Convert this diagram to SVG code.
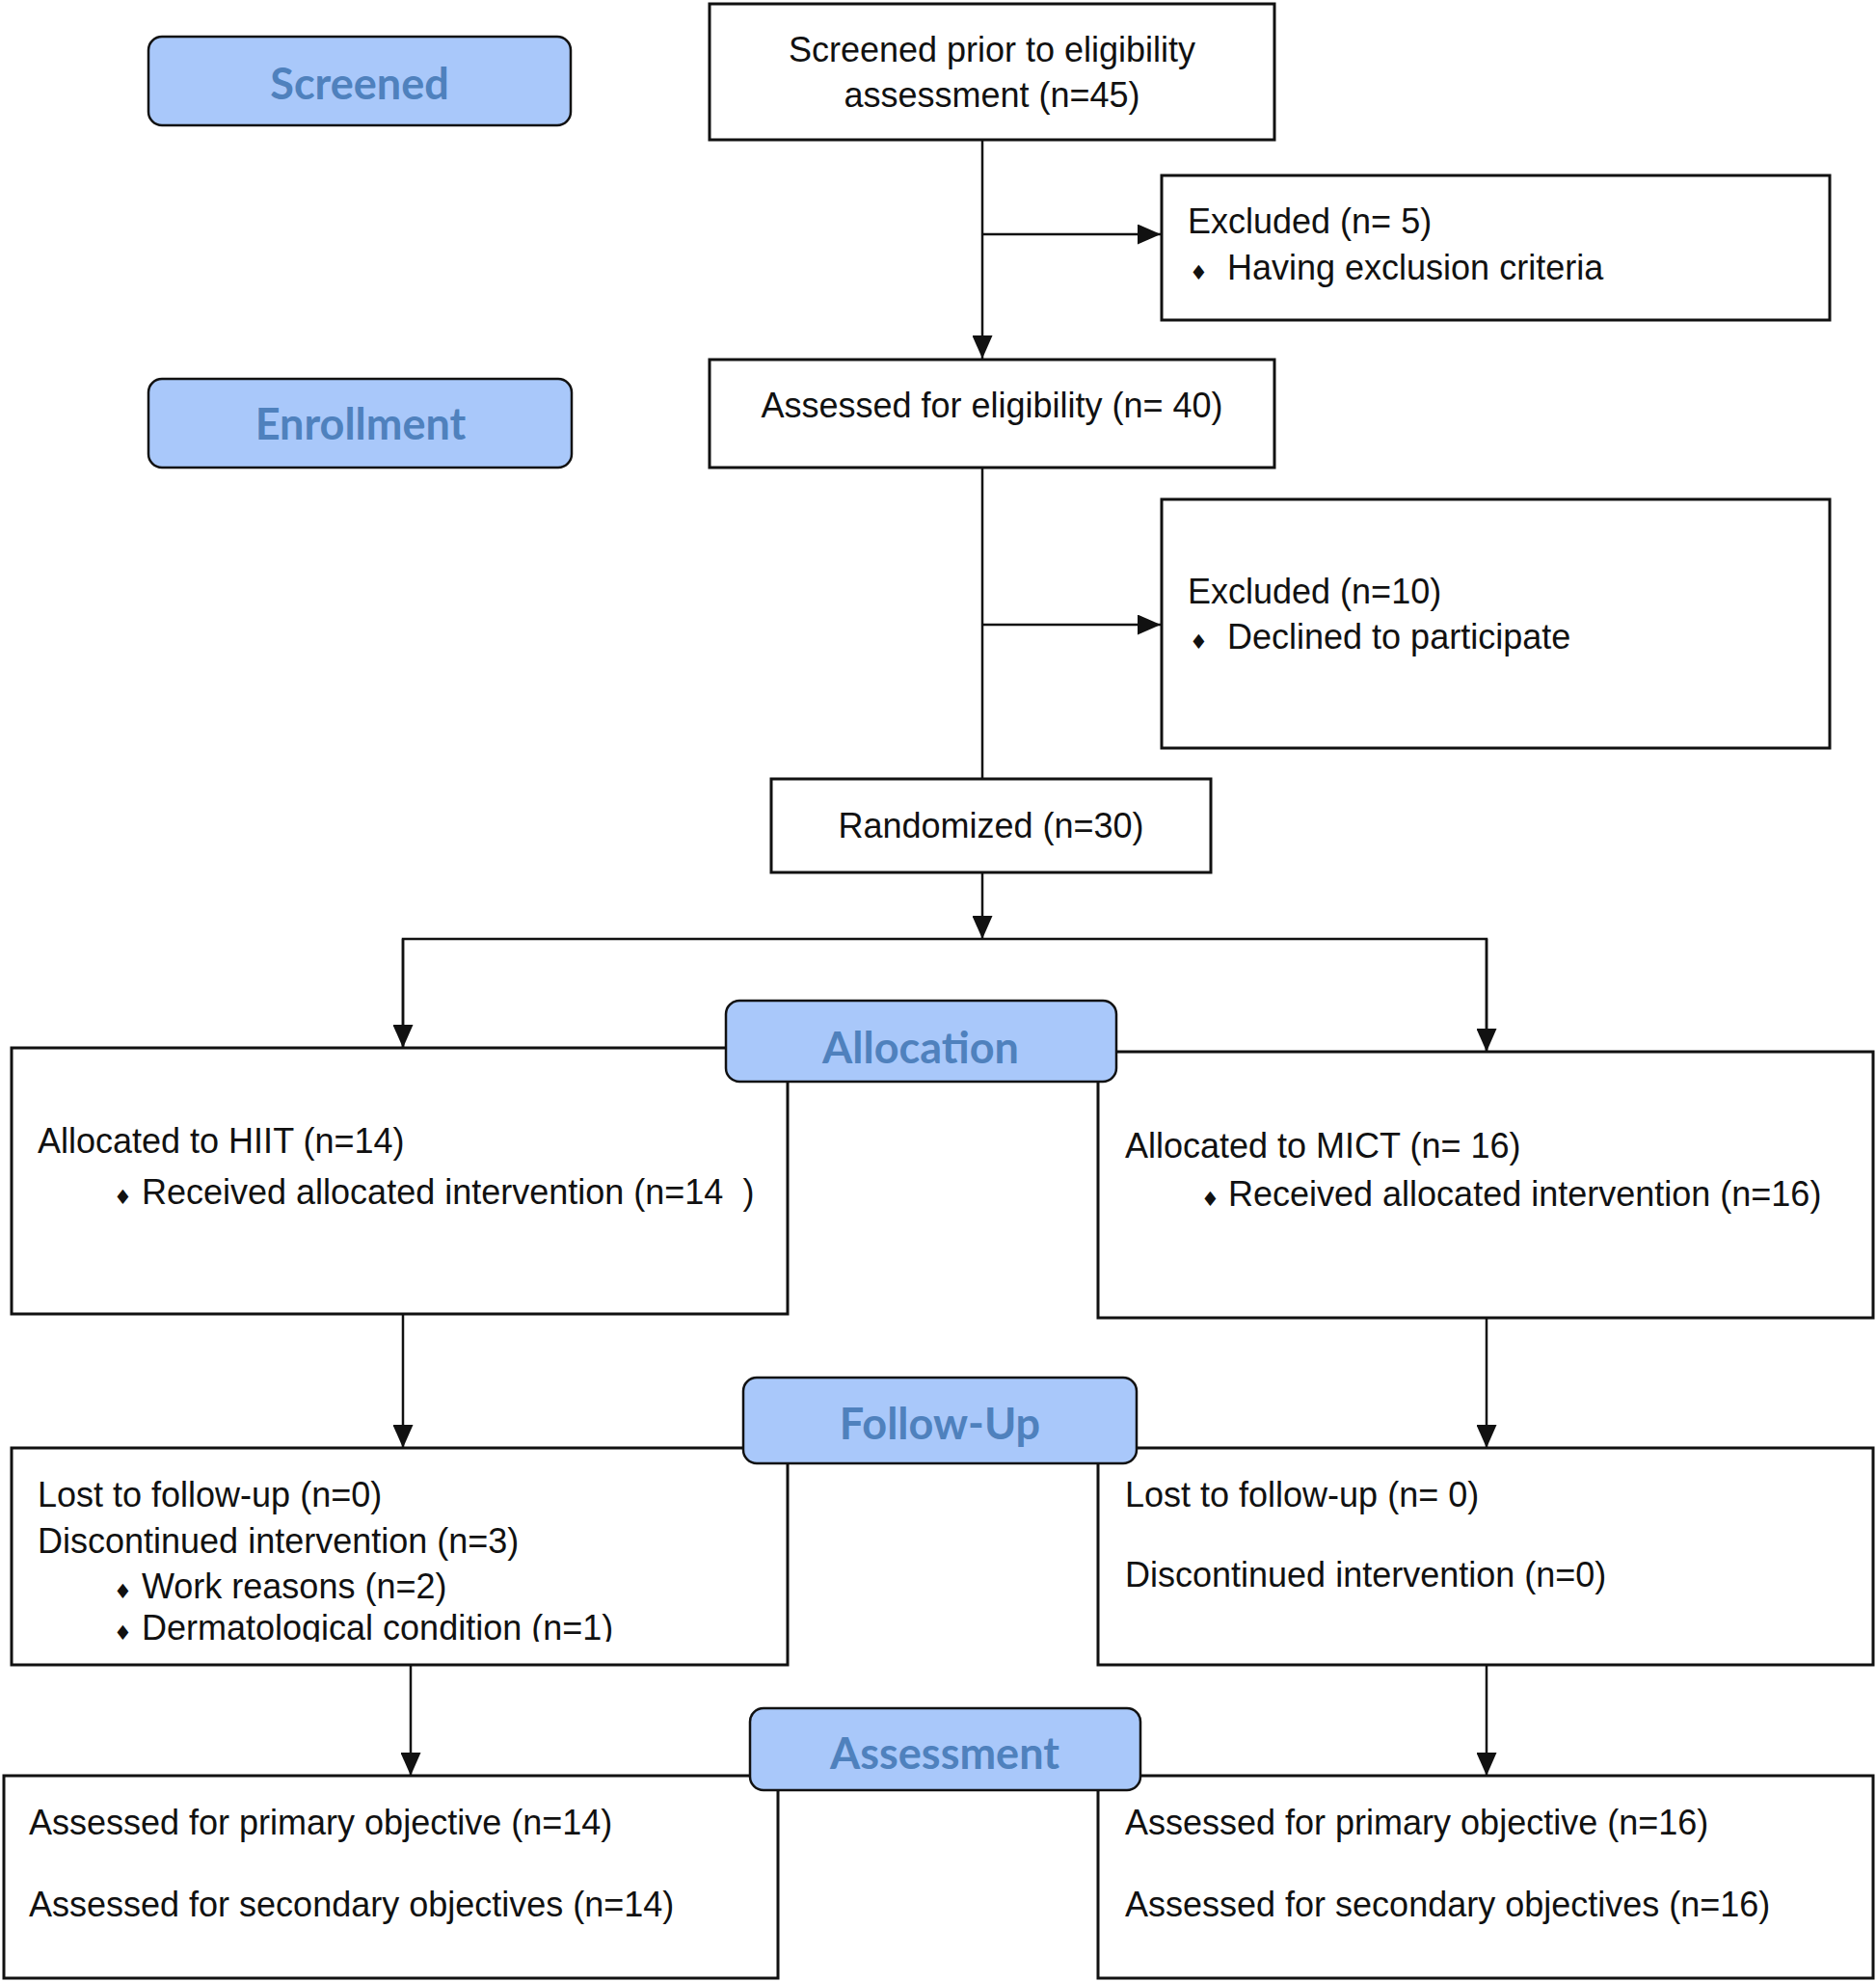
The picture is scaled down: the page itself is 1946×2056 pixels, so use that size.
<svg xmlns="http://www.w3.org/2000/svg" width="1946" height="2056" viewBox="0 0 1946 2056">
<style>
  .box { fill: #ffffff; stroke: #111111; stroke-width: 3; }
  .lbl { fill: #A9C8FA; stroke: #111111; stroke-width: 2.5; }
  .lt { font-family: Lato, "Open Sans", "Noto Sans", sans-serif; font-weight: 700; font-size: 45px; fill: #4F81BD; text-anchor: middle; }
  .t { font-family: "Liberation Sans", Arial, sans-serif; font-size: 36px; fill: #111111; }
  .c { text-anchor: middle; }
  .b { font-family: "DejaVu Sans", sans-serif; font-size: 21px; fill: #111111; }
  .ln { fill: none; stroke: #111111; stroke-width: 2.5; }
</style>
<defs>
  <marker id="arr" markerUnits="userSpaceOnUse" markerWidth="24" markerHeight="21" refX="24" refY="10.5" orient="auto">
    <path d="M0,0 L24,10.5 L0,21 Z" fill="#111111"/>
  </marker>
  <clipPath id="clipFU">
    <rect x="12" y="1502" width="804" height="201"/>
  </clipPath>
</defs>
<rect width="1946" height="2056" fill="#ffffff"/>

<g id="connectors">
  <line class="ln" x1="1019" y1="145" x2="1019" y2="372" marker-end="url(#arr)"/>
  <line class="ln" x1="1019" y1="243" x2="1204" y2="243" marker-end="url(#arr)"/>
  <line class="ln" x1="1019" y1="485" x2="1019" y2="808"/>
  <line class="ln" x1="1019" y1="648" x2="1204" y2="648" marker-end="url(#arr)"/>
  <line class="ln" x1="1019" y1="905" x2="1019" y2="974" marker-end="url(#arr)"/>
  <polyline class="ln" points="418,1087 418,974 1542,974 1542,1091"/>
  <line class="ln" x1="418" y1="974" x2="418" y2="1087" marker-end="url(#arr)"/>
  <line class="ln" x1="1542" y1="974" x2="1542" y2="1091" marker-end="url(#arr)"/>
  <line class="ln" x1="418" y1="1363" x2="418" y2="1502" marker-end="url(#arr)"/>
  <line class="ln" x1="1542" y1="1367" x2="1542" y2="1502" marker-end="url(#arr)"/>
  <line class="ln" x1="426" y1="1727" x2="426" y2="1842" marker-end="url(#arr)"/>
  <line class="ln" x1="1542" y1="1727" x2="1542" y2="1842" marker-end="url(#arr)"/>
</g>

<g id="screened-box">
  <rect class="box" x="736" y="4" width="586" height="141"/>
  <text class="t c" x="1029" y="64">Screened prior to eligibility</text>
  <text class="t c" x="1029" y="111">assessment (n=45)</text>
</g>

<g id="excluded-1">
  <rect class="box" x="1205" y="182" width="693" height="150"/>
  <text class="t" x="1232" y="242">Excluded (n= 5)</text>
  <text class="b" x="1234" y="290">♦</text>
  <text class="t" x="1273" y="290">Having exclusion criteria</text>
</g>

<g id="assessed-eligibility">
  <rect class="box" x="736" y="373" width="586" height="112"/>
  <text class="t c" x="1029" y="433">Assessed for eligibility (n= 40)</text>
</g>

<g id="excluded-2">
  <rect class="box" x="1205" y="518" width="693" height="258"/>
  <text class="t" x="1232" y="626">Excluded (n=10)</text>
  <text class="b" x="1234" y="673">♦</text>
  <text class="t" x="1273" y="673">Declined to participate</text>
</g>

<g id="randomized">
  <rect class="box" x="800" y="808" width="456" height="97"/>
  <text class="t c" x="1028" y="869">Randomized (n=30)</text>
</g>

<g id="hiit-allocated">
  <rect class="box" x="12" y="1087" width="805" height="276"/>
  <text class="t" x="39" y="1196">Allocated to HIIT (n=14)</text>
  <text class="b" x="118" y="1249">♦</text>
  <text class="t" x="147" y="1249" xml:space="preserve">Received allocated intervention (n=14  )</text>
</g>

<g id="mict-allocated">
  <rect class="box" x="1139" y="1091" width="804" height="276"/>
  <text class="t" x="1167" y="1201">Allocated to MICT (n= 16)</text>
  <text class="b" x="1246" y="1251">♦</text>
  <text class="t" x="1274" y="1251">Received allocated intervention (n=16)</text>
</g>

<g id="hiit-followup">
  <rect class="box" x="12" y="1502" width="805" height="225"/>
  <g clip-path="url(#clipFU)">
    <text class="t" x="39" y="1563">Lost to follow-up (n=0)</text>
    <text class="t" x="39" y="1611">Discontinued intervention (n=3)</text>
    <text class="b" x="118" y="1658">♦</text>
    <text class="t" x="147" y="1658">Work reasons (n=2)</text>
    <text class="b" x="118" y="1701">♦</text>
    <text class="t" x="147" y="1701">Dermatological condition (n=1)</text>
  </g>
</g>

<g id="mict-followup">
  <rect class="box" x="1139" y="1502" width="804" height="225"/>
  <text class="t" x="1167" y="1563">Lost to follow-up (n= 0)</text>
  <text class="t" x="1167" y="1646">Discontinued intervention (n=0)</text>
</g>

<g id="hiit-assessment">
  <rect class="box" x="4" y="1842" width="803" height="210"/>
  <text class="t" x="30" y="1903">Assessed for primary objective (n=14)</text>
  <text class="t" x="30" y="1988">Assessed for secondary objectives (n=14)</text>
</g>

<g id="mict-assessment">
  <rect class="box" x="1139" y="1842" width="804" height="210"/>
  <text class="t" x="1167" y="1903">Assessed for primary objective (n=16)</text>
  <text class="t" x="1167" y="1988">Assessed for secondary objectives (n=16)</text>
</g>

<g id="label-screened">
  <rect class="lbl" x="154" y="38" width="438" height="92" rx="14"/>
  <text class="lt" x="373" y="103">Screened</text>
</g>
<g id="label-enrollment">
  <rect class="lbl" x="154" y="393" width="439" height="92" rx="14"/>
  <text class="lt" x="374" y="456">Enrollment</text>
</g>
<g id="label-allocation">
  <rect class="lbl" x="753" y="1038" width="405" height="84" rx="14"/>
  <text class="lt" x="955" y="1103">Allocation</text>
</g>
<g id="label-followup">
  <rect class="lbl" x="771" y="1429" width="408" height="89" rx="14"/>
  <text class="lt" x="975" y="1493">Follow-Up</text>
</g>
<g id="label-assessment">
  <rect class="lbl" x="778" y="1772" width="405" height="85" rx="14"/>
  <text class="lt" x="980" y="1835">Assessment</text>
</g>
</svg>
